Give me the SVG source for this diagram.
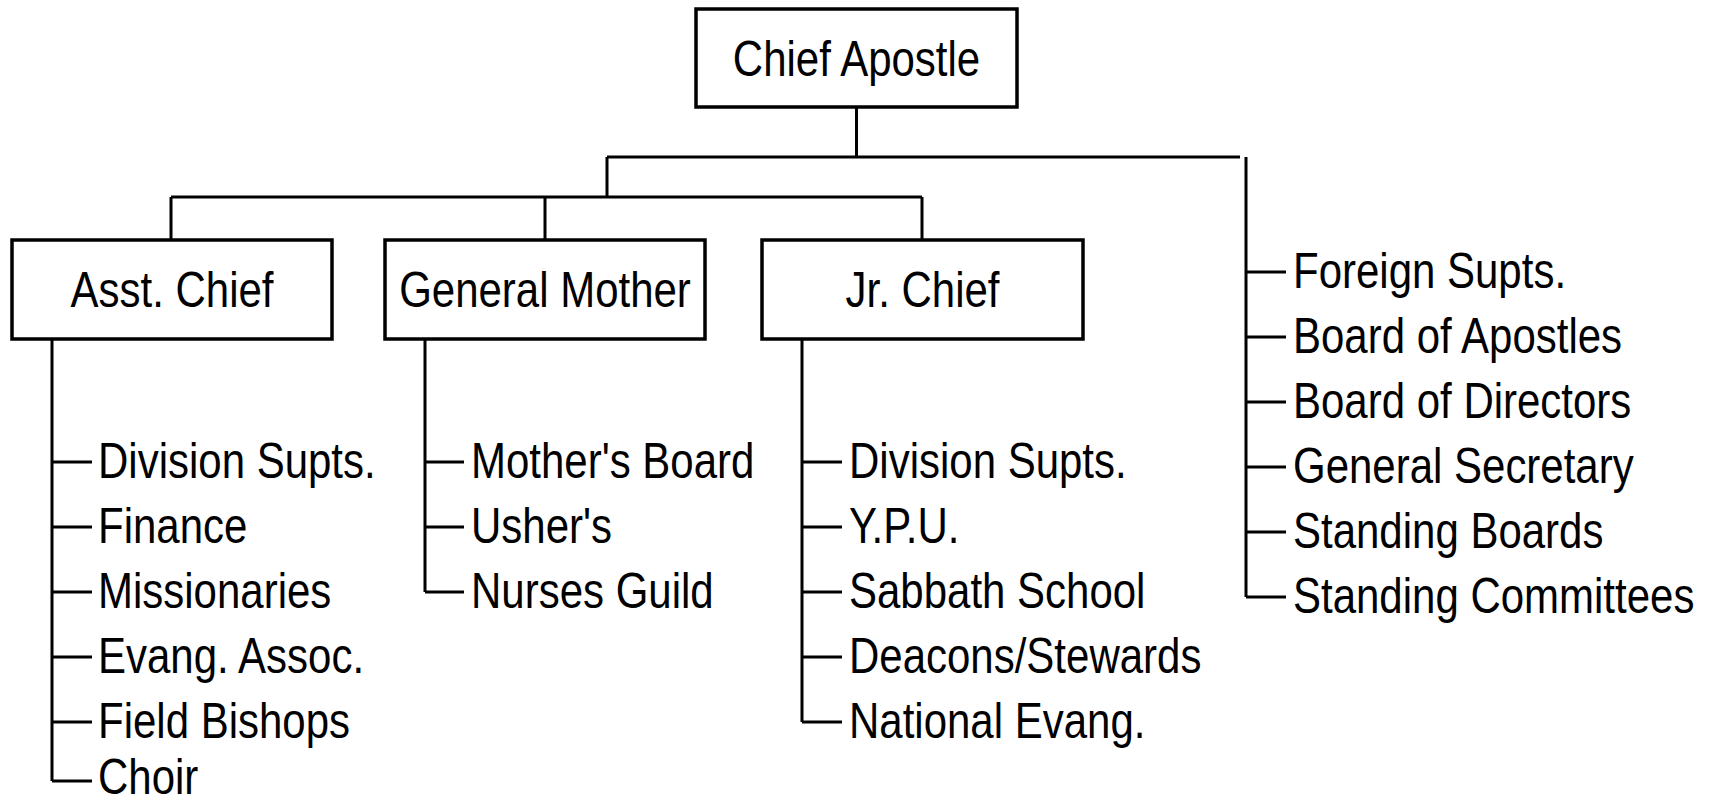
<svg xmlns="http://www.w3.org/2000/svg" width="1709" height="805" viewBox="0 0 1709 805">
<style>
.box{fill:#fff;stroke:#000;stroke-width:3.5}
.ln{stroke:#000;stroke-width:3;fill:none}
.t{font-family:"Liberation Sans",Arial,sans-serif;font-size:50px;fill:#000}
.c{text-anchor:middle}
</style>
<rect width="1709" height="805" fill="#fff"/>
<g id="connectors" class="ln">
<path d="M856.5 107V157M607 157H1240M607 157V197M171 197H922M171 197V240M545 197V240M922 197V240"/>
<path d="M1246 157V597M1246 272H1286M1246 337H1286M1246 402H1286M1246 467H1286M1246 532H1286M1246 597H1286"/>
<path d="M52 339V781M52 462H92M52 527H92M52 592H92M52 657H92M52 722H92M52 781H92"/>
<path d="M425 339V592M425 462H464M425 527H464M425 592H464"/>
<path d="M802 339V722M802 462H842M802 527H842M802 592H842M802 657H842M802 722H842"/>
</g>
<g id="chief-apostle"><rect class="box" x="696" y="9" width="321" height="98"/><text class="t c" transform="translate(856.5,76) scale(0.84,1)">Chief Apostle</text></g>
<g id="asst-chief"><rect class="box" x="12" y="240" width="320" height="99"/><text class="t c" transform="translate(172,307) scale(0.84,1)">Asst. Chief</text></g>
<g id="general-mother"><rect class="box" x="385" y="240" width="320" height="99"/><text class="t c" transform="translate(545,307) scale(0.84,1)">General Mother</text></g>
<g id="jr-chief"><rect class="box" x="762" y="240" width="321" height="99"/><text class="t c" transform="translate(922.5,307) scale(0.84,1)">Jr. Chief</text></g>
<g id="asst-list">
<text class="t" transform="translate(98,478) scale(0.84,1)">Division Supts.</text>
<text class="t" transform="translate(98,543) scale(0.84,1)">Finance</text>
<text class="t" transform="translate(98,608) scale(0.84,1)">Missionaries</text>
<text class="t" transform="translate(98,673) scale(0.84,1)">Evang. Assoc.</text>
<text class="t" transform="translate(98,738) scale(0.84,1)">Field Bishops</text>
<text class="t" transform="translate(98,794) scale(0.84,1)">Choir</text>
</g>
<g id="mother-list">
<text class="t" transform="translate(471,478) scale(0.84,1)">Mother's Board</text>
<text class="t" transform="translate(471,543) scale(0.84,1)">Usher's</text>
<text class="t" transform="translate(471,608) scale(0.84,1)">Nurses Guild</text>
</g>
<g id="jr-list">
<text class="t" transform="translate(849,478) scale(0.84,1)">Division Supts.</text>
<text class="t" transform="translate(849,543) scale(0.84,1)">Y.P.U.</text>
<text class="t" transform="translate(849,608) scale(0.84,1)">Sabbath School</text>
<text class="t" transform="translate(849,673) scale(0.84,1)">Deacons/Stewards</text>
<text class="t" transform="translate(849,738) scale(0.84,1)">National Evang.</text>
</g>
<g id="chief-list">
<text class="t" transform="translate(1293,288) scale(0.84,1)">Foreign Supts.</text>
<text class="t" transform="translate(1293,353) scale(0.84,1)">Board of Apostles</text>
<text class="t" transform="translate(1293,418) scale(0.84,1)">Board of Directors</text>
<text class="t" transform="translate(1293,483) scale(0.84,1)">General Secretary</text>
<text class="t" transform="translate(1293,548) scale(0.84,1)">Standing Boards</text>
<text class="t" transform="translate(1293,613) scale(0.84,1)">Standing Committees</text>
</g>
</svg>
